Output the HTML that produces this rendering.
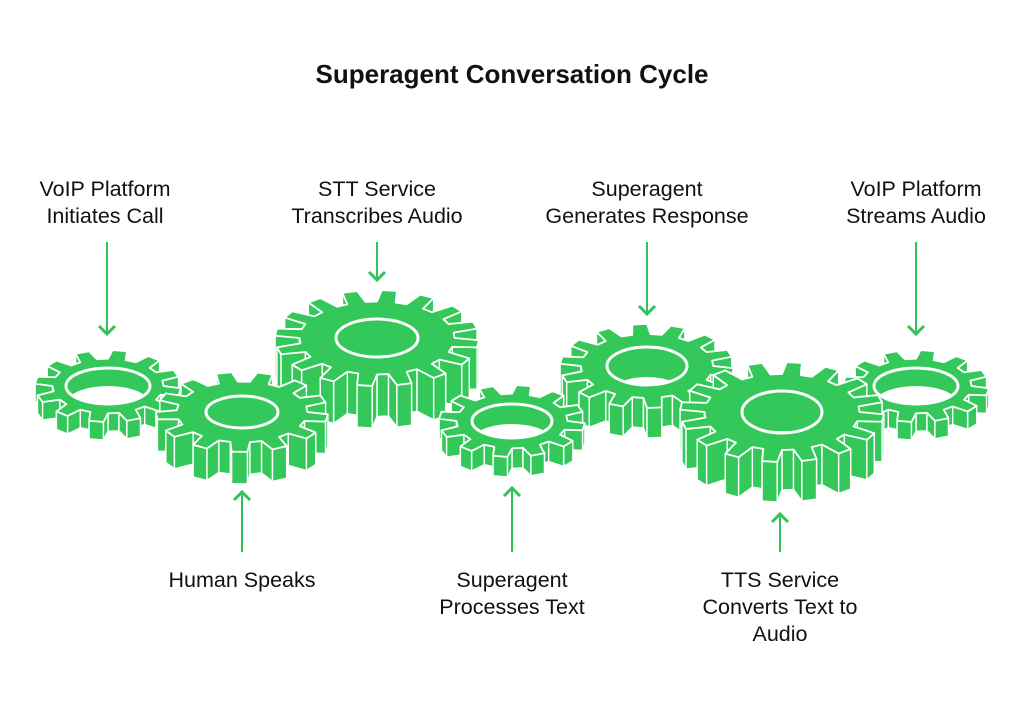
<!DOCTYPE html>
<html><head><meta charset="utf-8"><style>
body{margin:0;background:#fff;width:1024px;height:701px;overflow:hidden;font-family:"Liberation Sans",sans-serif}
svg{position:absolute;left:0;top:0}
</style></head><body>
<svg id="s" width="1024" height="701" viewBox="0 0 1024 701" xmlns="http://www.w3.org/2000/svg">
<defs><marker id="a" markerWidth="10" markerHeight="10" refX="5" refY="5" orient="auto"><path d="M1,1 L5,5 L1,9" fill="none" stroke="#2fc35a" stroke-width="1.5"/></marker></defs>
<text x="512" y="83" text-anchor="middle" font-size="26" font-weight="bold" fill="#111">Superagent Conversation Cycle</text>
<g font-size="21.5" fill="#111" text-anchor="middle">
<text x="105" y="196">VoIP Platform</text><text x="105" y="223">Initiates Call</text>
<text x="377" y="196">STT Service</text><text x="377" y="223">Transcribes Audio</text>
<text x="647" y="196">Superagent</text><text x="647" y="223">Generates Response</text>
<text x="916" y="196">VoIP Platform</text><text x="916" y="223">Streams Audio</text>
<text x="242" y="587">Human Speaks</text>
<text x="512" y="587">Superagent</text><text x="512" y="614">Processes Text</text>
<text x="780" y="587">TTS Service</text><text x="780" y="614">Converts Text to</text><text x="780" y="641">Audio</text>
</g>
<g stroke="#2fc35a" stroke-width="2" marker-end="url(#a)">
<line x1="107" y1="242" x2="107" y2="334"/>
<line x1="377" y1="242" x2="377" y2="280"/>
<line x1="647" y1="242" x2="647" y2="314"/>
<line x1="916" y1="242" x2="916" y2="334"/>
<line x1="242" y1="552" x2="242" y2="492"/>
<line x1="512" y1="552" x2="512" y2="488"/>
<line x1="780" y1="552" x2="780" y2="514"/>
</g>
<g id="gears"></g>
</svg>
<script>
var G='#34c85a',NS='http://www.w3.org/2000/svg',root=document.getElementById('gears');
function el(t,a,p){var e=document.createElementNS(NS,t);for(var k in a)e.setAttribute(k,a[k]);(p||root).appendChild(e);return e;}
var id=0;
function gear(cx,cy,rx,ry,n,t,hx,hy){
 var pts=[],rr=0.76;
 for(var i=0;i<n;i++){var b=2*Math.PI*i/n,s=2*Math.PI/n;
  [[0,rr],[0.12,1],[0.5,1],[0.62,rr]].forEach(function(q){var a=b+q[0]*s;pts.push([cx+Math.cos(a)*rx*q[1],cy+Math.sin(a)*ry*q[1]]);});}
 var g=el('g',{});
 var quads=[];
 for(var i=0;i<pts.length;i++){var p=pts[i],q=pts[(i+1)%pts.length];quads.push([p,q,(p[1]+q[1])/2]);}
 quads.sort(function(a,b){return a[2]-b[2];});
 quads.forEach(function(z){var p=z[0],q=z[1];
  el('polygon',{points:p[0]+','+p[1]+' '+q[0]+','+q[1]+' '+q[0]+','+(q[1]+t)+' '+p[0]+','+(p[1]+t),fill:G,stroke:'#fff','stroke-width':1.4,'stroke-linejoin':'round'},g);});
 el('polygon',{points:pts.map(function(p){return p[0]+','+p[1]}).join(' '),fill:G,stroke:'#fff','stroke-width':1.8,'stroke-linejoin':'round'},g);
 var cid='c'+(id++);var cp=el('clipPath',{id:cid},g);el('ellipse',{cx:cx,cy:cy,rx:hx,ry:hy},cp);
 var hg=el('g',{'clip-path':'url(#'+cid+')'},g);
 el('rect',{x:cx-hx-2,y:cy-hy-2,width:2*hx+4,height:2*hy+4,fill:G},hg);
 el('ellipse',{cx:cx,cy:cy+t,rx:hx,ry:hy,fill:'#fff'},hg);
 el('ellipse',{cx:cx,cy:cy,rx:hx,ry:hy,fill:'none',stroke:'#fff','stroke-width':3},g);
}
gear(108,386,73,36,12,18,42,18);
gear(377,338,102,48,16,42,41,19);
gear(647,366,87,42,14,30,40,19);
gear(916,386,73,36,12,18,42,18);
gear(242,412,86,40,13,32,36,16);
gear(512,421,73,36,12,20,40,17);
gear(782,412,102,50,16,40,40,21);
</script>
</body></html>
